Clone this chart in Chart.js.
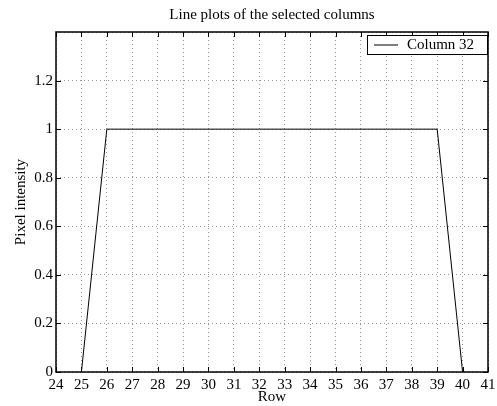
<!DOCTYPE html>
<html>
<head>
<meta charset="utf-8">
<script src="https://cdn.jsdelivr.net/npm/chart.js@4/dist/chart.umd.min.js"></script>
<style>
  html, body { margin: 0; padding: 0; background: #fff; }
  #wrap { width: 497px; height: 406px; }
</style>
</head>
<body>
<div id="wrap"><canvas id="grafico" width="497" height="406"></canvas></div>
<script>
// Dados
const rows = [25, 26, 27, 28, 29, 30, 31, 32, 33, 34, 35, 36, 37, 38, 39, 40];
const column32 = [0, 1, 1, 1, 1, 1, 1, 1, 1, 1, 1, 1, 1, 1, 1, 0];
const xTicks = [24, 25, 26, 27, 28, 29, 30, 31, 32, 33, 34, 35, 36, 37, 38, 39, 40, 41];
const yTicks = [0, 0.2, 0.4, 0.6, 0.8, 1, 1.2];

const titulo = "Line plots of the selected columns";
const fonte = "'Liberation Serif', 'Times New Roman', serif";

// Título centrado na área do gráfico, moldura, marcas internas e legenda
const moldura = {
  id: "moldura",
  afterDatasetsDraw(chart) {
    const { ctx, chartArea: a, scales } = chart;
    ctx.save();

    ctx.fillStyle = "#000";
    ctx.font = "15px " + fonte;
    ctx.textAlign = "center";
    ctx.textBaseline = "middle";
    ctx.fillText(titulo, (a.left + a.right) / 2, 15);

    ctx.strokeStyle = "#000";
    ctx.lineWidth = 1;
    ctx.beginPath();
    xTicks.forEach(v => {
      const px = Math.round(scales.x.getPixelForValue(v)) + 0.5;
      ctx.moveTo(px, a.bottom); ctx.lineTo(px, a.bottom - 5);
      ctx.moveTo(px, a.top); ctx.lineTo(px, a.top + 5);
    });
    yTicks.forEach(v => {
      const py = Math.round(scales.y.getPixelForValue(v)) + 0.5;
      ctx.moveTo(a.left, py); ctx.lineTo(a.left + 5, py);
      ctx.moveTo(a.right, py); ctx.lineTo(a.right - 5, py);
    });
    ctx.stroke();
    ctx.lineWidth = 1.5;
    ctx.strokeRect(a.left, a.top, a.right - a.left, a.bottom - a.top);

    // Legenda
    const label = chart.data.datasets[0].label;
    const bx = a.right - 121, by = a.top + 3, bw = 120, bh = 19;
    ctx.fillStyle = "#fff";
    ctx.fillRect(bx, by, bw, bh);
    ctx.lineWidth = 1;
    ctx.strokeRect(bx + 0.5, by + 0.5, bw, bh);
    ctx.beginPath();
    ctx.moveTo(bx + 7, by + bh / 2 + 0.5);
    ctx.lineTo(bx + 31, by + bh / 2 + 0.5);
    ctx.stroke();
    ctx.fillStyle = "#000";
    ctx.textAlign = "left";
    ctx.fillText(label, bx + 40, by + bh / 2 + 1);
    ctx.restore();
  }
};

const ctx = document.getElementById("grafico").getContext("2d");
new Chart(ctx, {
  type: "line",
  data: {
    datasets: [{
      label: "Column 32",
      data: rows.map((r, i) => ({ x: r, y: column32[i] })),
      borderColor: "#000",
      borderWidth: 1,
      pointRadius: 0,
      tension: 0,
      fill: false
    }]
  },
  options: {
    responsive: false,
    animation: false,
    layout: { padding: { top: 32, right: 9, bottom: 0, left: 0 } },
    plugins: {
      legend: { display: false },
      tooltip: { enabled: false },
      title: { display: false }
    },
    scales: {
      x: {
        type: "linear",
        min: 24,
        max: 41,
        afterBuildTicks: s => { s.ticks = xTicks.map(v => ({ value: v })); },
        afterFit: s => { s.height = 34; s.paddingRight = 0; s.paddingLeft = 0; },
        ticks: {
          color: "#000",
          font: { family: fonte, size: 15 },
          padding: 4,
          maxRotation: 0,
          autoSkip: false
        },
        grid: { color: "#999", drawTicks: false },
        border: { display: false, dash: [1, 3] },
        title: {
          display: true,
          text: "Row",
          color: "#000",
          font: { family: fonte, size: 15 },
          padding: { top: 0, bottom: 0 }
        }
      },
      y: {
        min: 0,
        max: 1.4,
        afterBuildTicks: s => { s.ticks = yTicks.concat([1.4]).map(v => ({ value: v })); },
        afterFit: s => { s.width = 56; s.paddingTop = 0; s.paddingBottom = 0; },
        ticks: {
          color: "#000",
          font: { family: fonte, size: 15 },
          padding: 3,
          callback: v => (v > 1.3 ? "" : String(Number(v.toFixed(1))))
        },
        grid: { color: "#999", drawTicks: false },
        border: { display: false, dash: [1, 3] },
        title: {
          display: true,
          text: "Pixel intensity",
          color: "#000",
          font: { family: fonte, size: 15 },
          padding: { top: 12, bottom: 0 }
        }
      }
    }
  },
  plugins: [moldura]
});
</script>
</body>
</html>
